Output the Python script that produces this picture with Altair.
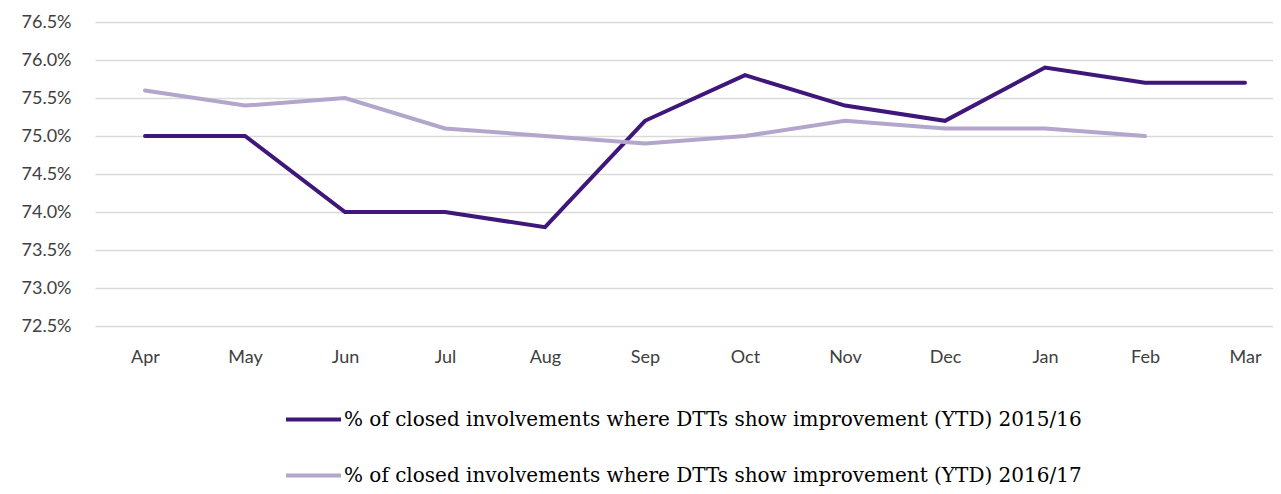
import altair as alt
import pandas as pd

months = ["Apr", "May", "Jun", "Jul", "Aug", "Sep", "Oct", "Nov", "Dec", "Jan", "Feb", "Mar"]
series_a = "% of closed involvements where DTTs show improvement (YTD) 2015/16"
series_b = "% of closed involvements where DTTs show improvement (YTD) 2016/17"
values_a = [75.0, 75.0, 74.0, 74.0, 73.8, 75.2, 75.8, 75.4, 75.2, 75.9, 75.7, 75.7]
values_b = [75.6, 75.4, 75.5, 75.1, 75.0, 74.9, 75.0, 75.2, 75.1, 75.1, 75.0]
y_ticks = [72.5, 73.0, 73.5, 74.0, 74.5, 75.0, 75.5, 76.0, 76.5]
title_text = "Family Worker: Closing Assessments with Improvement recorded"

rows = []
for i, v in enumerate(values_a):
    rows.append({"idx": i, "month": months[i], "value": v, "series": series_a})
for i, v in enumerate(values_b):
    rows.append({"idx": i, "month": months[i], "value": v, "series": series_b})
df = pd.DataFrame(rows)

month_js = "[" + ",".join("'" + m + "'" for m in months) + "]"

chart = (
    alt.Chart(df)
    .mark_line(strokeWidth=4, strokeCap="round", strokeJoin="miter")
    .encode(
        x=alt.X(
            "idx:Q",
            scale=alt.Scale(domain=[-0.5, 11.28], nice=False, zero=False),
            axis=alt.Axis(
                title=None,
                values=list(range(12)),
                labelExpr=month_js + "[datum.value]",
                grid=False,
                domain=False,
                ticks=False,
                labelFont="Lato",
                labelFontSize=18,
                labelColor="#404040",
                labelPadding=22,
            ),
        ),
        y=alt.Y(
            "value:Q",
            scale=alt.Scale(domain=[72.5, 76.5], nice=False, zero=False),
            axis=alt.Axis(
                title=None,
                values=y_ticks,
                labelExpr="format(datum.value, '.1f') + '%'",
                domain=False,
                ticks=False,
                gridColor="#d9d9d9",
                gridWidth=1.3,
                labelFont="Lato",
                labelFontSize=18,
                labelColor="#404040",
                labelPadding=24,
            ),
        ),
        color=alt.Color(
            "series:N",
            scale=alt.Scale(domain=[series_a, series_b], range=["#3f1679", "#b3a6cc"]),
            legend=alt.Legend(
                title=None,
                orient="none",
                legendX=189,
                legendY=368,
                direction="vertical",
                symbolType="stroke",
                symbolSize=3025,
                symbolStrokeWidth=4,
                labelFont="DejaVu Serif",
                labelFontSize=20,
                labelColor="#000000",
                labelLimit=1200,
                labelOffset=1,
                rowPadding=16,
            ),
        ),
    )
    .properties(
        width=1178,
        height=304,
        autosize=alt.AutoSizeParams(type="none"),
        padding={"left": 87, "top": 14, "right": 0, "bottom": 160},
        title=alt.TitleParams(
            title_text,
            font="Open Sans",
            fontSize=20,
            fontWeight="bold",
            color="#4b1049",
            anchor="middle",
            dx=-24,
            offset=10,
            baseline="bottom",
        ),
    )
    .configure_view(stroke=None)
)

chart.save("out.html", embed_options={"renderer": "svg", "actions": False})
